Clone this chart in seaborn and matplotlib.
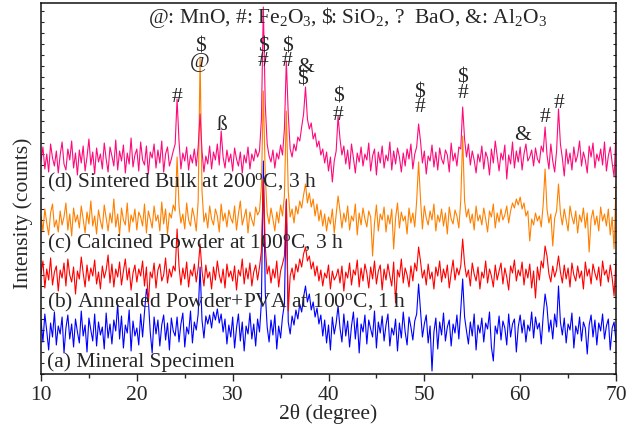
import numpy as np
import pandas as pd
import matplotlib
matplotlib.use("Agg")
import matplotlib.pyplot as plt
from matplotlib.ticker import MultipleLocator
import seaborn as sns

# ---------------- data ----------------
two_theta = np.linspace(10.0, 70.0, 301)  # scan grid, 0.2 deg step

sintered_bulk = [
    38, 52, 30, 45, 27, 55, 41, 33, 48, 26,
    44, 57, 35, 29, 50, 39, 58, 31, 46, 24,
    49, 36, 53, 28, 42, 60, 34, 47, 25, 51,
    37, 45, 30, 56, 40, 27, 52, 43, 33, 59,
    29, 48, 38, 54, 26, 46, 35, 61, 32, 44,
    50, 28, 57, 39, 34, 53, 25, 47, 41, 55,
    31, 49, 36, 58, 27, 45, 52, 33, 40, 48,
    55, 100, 58, 30, 46, 38, 52, 29, 44, 36,
    50, 33, 52, 85, 48, 27, 43, 35, 53, 30,
    47, 39, 55, 34, 68, 42, 31, 49, 37, 45,
    28, 51, 40, 33, 47, 26, 44, 36, 52, 30,
    45, 38, 50, 42, 48, 80, 192, 95, 55, 43,
    37, 49, 31, 46, 40, 54, 44, 70, 138, 85,
    50, 42, 55, 48, 62, 58, 72, 85, 112, 80,
    70, 76, 60, 66, 52, 58, 44, 50, 36, 47,
    28, 42, 17, 38, 48, 83, 60, 44, 53, 35,
    49, 30, 55, 41, 26, 46, 37, 52, 33, 45,
    39, 56, 28, 43, 50, 24, 47, 36, 53, 31,
    44, 38, 57, 29, 48, 35, 51, 42, 27, 46,
    33, 50, 40, 55, 30, 45, 52, 75, 58, 36,
    48, 25, 43, 38, 54, 32, 47, 29, 51, 40,
    35, 49, 44, 27, 56, 38, 46, 33, 52, 50,
    92, 60, 42, 55, 34, 48, 39, 26, 45, 37,
    53, 30, 47, 41, 24, 50, 36, 58, 43, 28,
    46, 39, 54, 20, 44, 35, 57, 31, 48, 37,
    52, 29, 45, 55, 38, 42, 49, 33, 51, 40,
    36, 53, 47, 72, 44, 30, 55, 38, 27, 48,
    90, 55, 41, 23, 50, 35, 46, 29, 52, 37,
    44, 58, 33, 47, 39, 26, 53, 42, 56, 31,
    45, 38, 50, 34, 57, 28, 43, 52, 36, 22,
    67,
]

calcined_powder = [
    45, 30, 52, 38, 26, 48, 57, 34, 41, 29,
    50, 36, 44, 58, 31, 47, 25, 53, 39, 46,
    33, 55, 42, 28, 49, 37, 60, 35, 45, 27,
    51, 40, 32, 56, 43, 30, 48, 38, 62, 34,
    47, 26, 53, 41, 36, 58, 29, 46, 39, 52,
    31, 49, 44, 35, 57, 28, 50, 42, 33, 55,
    40, 46, 30, 59, 37, 52, 27, 48, 43, 56,
    50, 104, 55, 38, 47, 32, 58, 41, 35, 53,
    44, 30, 60, 204, 70, 39, 48, 33, 55, 42,
    36, 52, 45, 29, 57, 40, 48, 34, 51, 43,
    38, 55, 31, 47, 60, 36, 44, 52, 28, 49,
    41, 35, 54, 46, 50, 75, 170, 85, 48, 37,
    53, 42, 30, 49, 38, 56, 45, 65, 150, 70,
    44, 52, 38, 55, 47, 60, 53, 66, 77, 58,
    68, 54, 62, 45, 57, 40, 51, 35, 47, 30,
    44, 37, 52, 28, 46, 65, 50, 33, 48, 39,
    55, 31, 45, 40, 57, 26, 48, 36, 53, 42,
    34, 50, 44, 5, 38, 56, 30, 47, 41, 54,
    29, 46, 37, 52, 12, 43, 58, 33, 49, 40,
    45, 27, 53, 38, 48, 34, 60, 99, 62, 32,
    55, 43, 36, 50, 41, 57, 30, 46, 39, 52,
    35, 48, 27, 54, 42, 37, 51, 45, 33, 60,
    125, 60, 44, 52, 38, 47, 31, 55, 40, 46,
    36, 53, 42, 29, 50, 44, 57, 33, 48, 39,
    52, 41, 46, 55, 38, 50, 58, 53, 62, 56,
    64, 52, 58, 45, 50, 20, 42, 36, 48, 40,
    45, 34, 56, 92, 52, 38, 47, 15, 43, 50,
    77, 48, 36, 52, 41, 30, 55, 44, 37, 50,
    28, 46, 39, 53, 33, 48, 9, 42, 51, 36,
    45, 30, 54, 40, 47, 35, 52, 26, 44, 12,
    77,
]

annealed_powder = [
    42, 55, 28, 47, 36, 58, 31, 44, 50, 25,
    46, 38, 53, 30, 57, 41, 34, 49, 22, 45,
    37, 59, 43, 29, 51, 35, 48, 40, 56, 32,
    44, 27, 50, 38, 46, 61, 33, 52, 29, 47,
    39, 54, 31, 45, 57, 36, 48, 26, 43, 51,
    34, 47, 40, 55, 30, 49, 12, 44, 38, 53,
    28, 46, 52, 35, 41, 58, 33, 47, 39, 50,
    45, 87, 50, 31, 48, 37, 54, 29, 46, 40,
    52, 34, 48, 72, 45, 30, 51, 38, 44, 27,
    49, 36, 55, 41, 33, 47, 28, 52, 39, 45,
    35, 50, 26, 46, 40, 57, 32, 48, 37, 53,
    30, 44, 51, 36, 49, 65, 137, 70, 42, 50,
    33, 47, 38, 55, 29, 45, 52, 60, 117, 5,
    40, 48, 36, 52, 44, 57, 49, 62, 69, 55,
    60, 47, 54, 40, 50, 35, 46, 30, 43, 38,
    51, 27, 45, 36, 40, 47, 33, 50, 25, 44,
    38, 53, 31, 46, 41, 56, 29, 48, 35, 52,
    43, 28, 49, 37, 55, 32, 45, 51, 26, 47,
    36, 52, 40, 30, 54, 13, 46, 39, 57, 33,
    48, 41, 29, 50, 35, 53, 45, 69, 55, 38,
    46, 31, 52, 37, 44, 27, 49, 40, 55, 34,
    47, 38, 51, 28, 43, 56, 36, 48, 41, 50,
    77, 52, 39, 46, 30, 53, 42, 35, 49, 27,
    44, 38, 55, 33, 47, 40, 29, 51, 36, 45,
    53, 32, 48, 39, 26, 50, 43, 56, 35, 46,
    40, 54, 31, 47, 38, 52, 28, 45, 18, 49,
    36, 55, 48, 70, 60, 42, 34, 50, 39, 46,
    60, 44, 33, 51, 37, 48, 29, 53, 41, 35,
    50, 38, 45, 27, 54, 40, 47, 32, 52, 43,
    36, 49, 30, 55, 41, 46, 34, 51, 38, 20,
    57,
]

mineral_specimen = [
    52, 30, 58, 41, 22, 49, 35, 60, 27, 46,
    38, 55, 19, 44, 57, 33, 48, 25, 53, 40,
    29, 61, 36, 47, 20, 54, 42, 31, 58, 26,
    50, 37, 45, 23, 59, 34, 48, 28, 52, 41,
    68, 33, 56, 24, 47, 39, 62, 21, 51, 36,
    44, 27, 58, 35, 60, 83, 72, 40, 19, 55,
    38, 52, 26, 47, 57, 32, 49, 22, 54, 41,
    36, 55, 30, 48, 59, 25, 45, 38, 61, 29,
    50, 42, 58, 105, 52, 34, 56, 48, 57, 44,
    60, 52, 63, 49, 58, 40, 53, 28, 47, 35,
    55, 24, 44, 58, 31, 50, 21, 46, 38, 59,
    33, 48, 26, 53, 40, 70, 211, 80, 45, 30,
    52, 37, 57, 23, 46, 34, 55, 68, 171, 50,
    38, 56, 47, 62, 53, 68, 60, 75, 86, 70,
    78, 62, 70, 55, 64, 48, 57, 36, 52, 29,
    47, 22, 55, 38, 49, 66, 44, 30, 58, 36,
    51, 25, 46, 60, 33, 54, 19, 48, 40, 57,
    28, 52, 43, 35, 61, 24, 50, 39, 56, 31,
    47, 58, 26, 44, 37, 53, 21, 49, 34, 60,
    40, 27, 55, 45, 32, 51, 58, 88, 62, 35,
    48, 57, 29, 46, 1, 40, 54, 23, 50, 37,
    59, 31, 45, 52, 26, 48, 39, 57, 33, 62,
    93, 55, 41, 28, 50, 36, 58, 22, 47, 39,
    54, 30, 49, 43, 60, 25, 11, 46, 38, 56,
    32, 51, 44, 27, 58, 35, 48, 53, 20, 45,
    57, 39, 52, 30, 47, 41, 60, 34, 55, 43,
    49, 28, 56, 78, 65, 40, 52, 33, 58, 45,
    86, 50, 37, 54, 29, 48, 42, 59, 24, 46,
    38, 55, 31, 50, 44, 18, 47, 57, 35, 52,
    27, 49, 41, 58, 33, 46, 53, 22, 44, 50,
    30,
]

series_names = ["(a) Mineral Specimen",
                "(b) Annealed Powder+PVA at 100$^{\\rm o}$C, 1 h",
                "(c) Calcined Powder at 100$^{\\rm o}$C, 3 h",
                "(d) Sintered Bulk at 200$^{\\rm o}$C, 3 h"]
series_values = [mineral_specimen, annealed_powder, calcined_powder, sintered_bulk]

phase_key = r"@: MnO, #: Fe$_2$O$_3$, \$: SiO$_2$, ?  BaO, &: Al$_2$O$_3$"
peak_symbols = ["#", "\\$", "@", "ß", "\\$", "#", "\\$", "#", "&", "\\$",
                "\\$", "#", "\\$", "#", "\\$", "#", "&", "#", "#"]
peak_angles = [24.2, 26.6, 26.6, 28.9, 33.2, 33.2, 35.7, 35.7, 37.6, 37.3,
               41.0, 41.0, 49.5, 49.5, 54.0, 54.0, 60.2, 62.6, 64.1]

# ---------------- layout / style ----------------
offsets = [2, 58, 113, 175]
colors = ["#0000FF", "#FF0000", "#FF8000", "#FF0A7A"]
label_y = [13, 73, 132, 193]
symbol_y = [278, 328, 313, 250, 328, 313, 328, 313, 308, 295,
            278, 260, 282, 267, 297, 282, 240, 257, 271]

sns.set_theme(style="ticks")
plt.rcParams["font.family"] = ["Liberation Serif", "DejaVu Serif"]
plt.rcParams["mathtext.fontset"] = "custom"
plt.rcParams["mathtext.rm"] = "Liberation Serif"
plt.rcParams["mathtext.it"] = "Liberation Serif:italic"

FS = 15.5

fig = plt.figure(figsize=(6.37, 4.27), dpi=100)
ax = fig.add_axes([41 / 637, 52 / 427, 575 / 637, 371 / 427])

frames = []
for name, vals, off in zip(series_names, series_values, offsets):
    frames.append(pd.DataFrame({"two_theta": two_theta,
                                "intensity": np.asarray(vals, float) + off,
                                "sample": name}))
df = pd.concat(frames, ignore_index=True)

for name, col in zip(series_names, colors):
    sns.lineplot(data=df[df["sample"] == name], x="two_theta", y="intensity",
                 color=col, linewidth=0.8, ax=ax, legend=False,
                 estimator=None, sort=False)

ax.set_xlim(10, 70)
ax.set_ylim(0, 371)
ax.xaxis.set_major_locator(MultipleLocator(10))
ax.xaxis.set_minor_locator(MultipleLocator(5))
ax.yaxis.set_major_locator(MultipleLocator(11))
ax.tick_params(axis="x", which="major", direction="out", length=5, width=1,
               labelsize=FS, pad=3, top=False)
ax.tick_params(axis="x", which="minor", direction="out", length=3, width=1, top=False)
ax.tick_params(axis="y", which="major", direction="in", length=2, width=0.8,
               left=True, right=True, labelleft=False)
for s in ax.spines.values():
    s.set_linewidth(1.1)
    s.set_color("#111111")

ax.set_xlabel("2θ (degree)", fontsize=FS, labelpad=-1)
ax.set_ylabel("Intensity (counts)", fontsize=FS)
ax.yaxis.set_label_coords(-0.014, 0.437)

ax.text(42.0, 357, phase_key, fontsize=FS, ha="center", va="center")
for sym, ang, yy in zip(peak_symbols, peak_angles, symbol_y):
    ax.text(ang, yy, sym, fontsize=FS, ha="center", va="center")
for name, yy in zip(series_names, label_y):
    ax.text(10.6, yy, name, fontsize=FS, ha="left", va="center")

fig.savefig("out.png", dpi=100)
